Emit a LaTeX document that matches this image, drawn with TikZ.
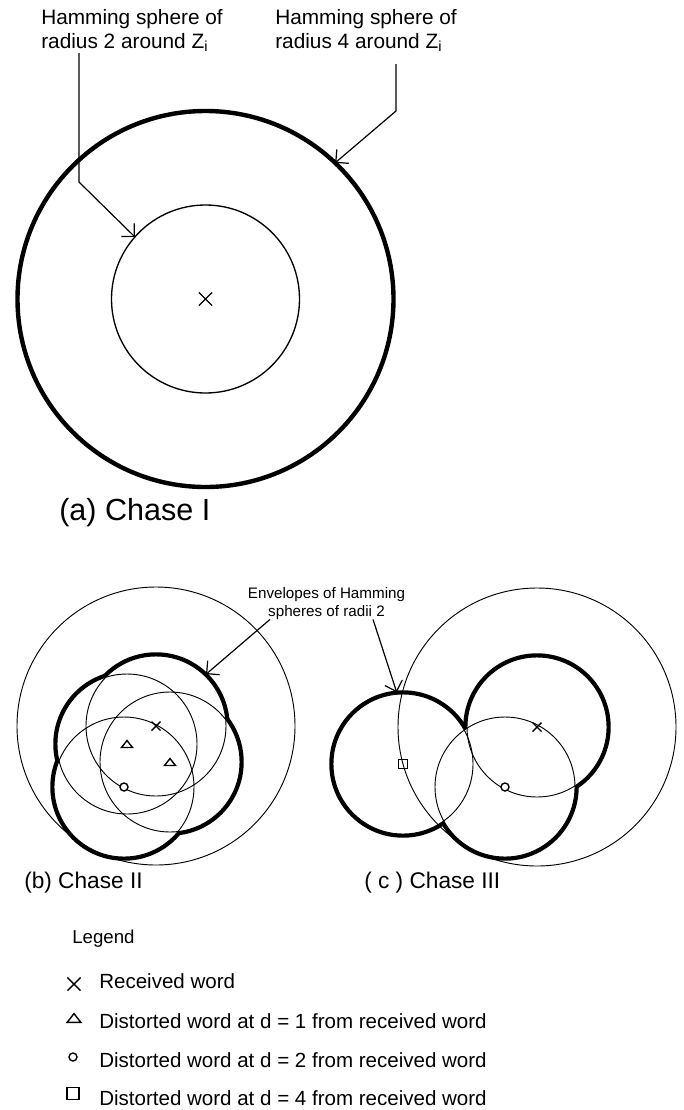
\documentclass[tikz,border=0pt]{standalone}
\usepackage{fontspec}
\setmainfont{Liberation Sans}
\usetikzlibrary{arrows.meta, calc}

\begin{document}
\begin{tikzpicture}[
    x=0.75pt, y=0.75pt,
    sphere/.style={line width=0.7pt},
    bigsphere/.style={line width=3.3pt},
    hull/.style={line width=5.6pt},
    pointer/.style={
        -{Straight Barb[length=6.9pt, width=13.8pt]},
        line width=0.9pt
    },
    marker/.style={line width=1.05pt},
    toplabel/.style={
        inner sep=0pt,
        anchor=base west,
        align=left,
        font=\fontsize{15.6}{17.8}\selectfont
    },
    envlabel/.style={
        inner sep=0pt,
        anchor=base,
        align=center,
        font=\fontsize{11.4}{12.8}\selectfont
    },
    caption/.style={
        inner sep=0pt,
        anchor=base west,
        font=\fontsize{17}{20}\selectfont
    },
    legtext/.style={
        inner sep=0pt,
        anchor=base west,
        font=\fontsize{15.4}{18}\selectfont
    },
    xmark/.pic={\draw[marker] (-4.5,-4.5) -- (4.5,4.5) (-4.5,4.5) -- (4.5,-4.5);},
    trimark/.pic={\draw[marker] (-5.5,-3.5) -- (5.5,-3.5) -- (0,3.5) -- cycle;},
    omark/.pic={\draw[marker, fill=white] (0,0) circle (4);},
    sqmark/.pic={\draw[marker] (-4.5,-4.5) rectangle (4.5,4.5);}
]

\useasboundingbox (0,0) rectangle (683,-1110);

% ------------------------------------------------------------------
% CHASE I
% ------------------------------------------------------------------

\coordinate (zi) at (205.5,-299);
\draw[bigsphere] (zi) circle (188);
\draw[sphere, line width=1pt] (zi) circle (94);
\pic[scale=1.45] at (zi) {xmark};

% base of a two-line label is the baseline of its last line
\node[toplabel] (lblin) at (41,-48) {Hamming sphere of\\radius 2 around Z\textsubscript{i}};
\node[toplabel] (lblout) at (275,-48) {Hamming sphere of\\radius 4 around Z\textsubscript{i}};

\coordinate (bendin) at (79,-182);
\coordinate (bendout) at (396,-111);
\draw[pointer] ($(lblin.south -| bendin)+(0,-1)$) -- (bendin) -- ($(zi)+(138.7:94)$);
\draw[pointer] ($(lblout.south -| bendout)+(0,-12)$) -- (bendout) -- ($(zi)+(46.4:188)$);

\node[caption, font=\fontsize{22.9}{27}\selectfont] (capa) at (59,-520) {(a) Chase I};

% ------------------------------------------------------------------
% CHASE II AND CHASE III
% ------------------------------------------------------------------

\coordinate (xb) at (156,-726);
\coordinate (tb1) at (127,-744);
\coordinate (tb2) at (170,-762);
\coordinate (ob) at (124,-787);

\coordinate (xc) at (537,-727);
\coordinate (oc) at (505,-787);
\coordinate (sc) at (403,-764);

% envelopes: thick rims, then white insides, then the thin spheres
\foreach \ctr in {xb,tb1,tb2,ob,xc,oc,sc}
    \draw[hull] (\ctr) circle (70);
\foreach \ctr in {xb,tb1,tb2,ob,xc,oc,sc}
    \fill[white] (\ctr) circle (70);
\foreach \ctr in {xb,tb1,tb2,ob,xc,oc,sc}
    \draw[sphere] (\ctr) circle (70);

\draw[sphere] (xb) circle (139);
\draw[sphere] (xc) circle (139);

\pic at (xb) {xmark};
\pic at (tb1) {trimark};
\pic at (tb2) {trimark};
\pic at (ob) {omark};

\pic at (xc) {xmark};
\pic at (oc) {omark};
\pic at (sc) {sqmark};

\node[envlabel] (envlbl) at (326.5,-616) {Envelopes of Hamming\\spheres of radii 2};
\coordinate (envL) at (270,-623);
\coordinate (envR) at (373,-623);
\draw[pointer] (envlbl.south -| envL) -- ($(xb)+(46:72)$);
\draw[pointer] (envlbl.south -| envR) -- ($(sc)+(95:72)$);

\node[caption] (capb) at (24,-888) {(b) Chase II};
\node[caption] (capc) at (364,-888) {( c ) Chase III};

% ------------------------------------------------------------------
% LEGEND
% ------------------------------------------------------------------

\node[legtext, font=\fontsize{14}{16}\selectfont] (leghead) at (72,-943) {Legend};
\node[legtext] (legx) at (99,-988) {Received word};
\node[legtext] (legt) at (99,-1028) {Distorted word at d = 1 from received word};
\node[legtext] (lego) at (99,-1067) {Distorted word at d = 2 from received word};
\node[legtext] (legs) at (99,-1105) {Distorted word at d = 4 from received word};

\pic[scale=1.45] at ($(legx.base west)+(-25,4)$) {xmark};
\pic[scale=1.25] at ($(legt.base west)+(-25,10)$) {trimark};
\pic at ($(lego.base west)+(-26,10)$) {omark};
\pic[scale=1.33] at ($(legs.base west)+(-26,11.5)$) {sqmark};

\end{tikzpicture}
\end{document}
